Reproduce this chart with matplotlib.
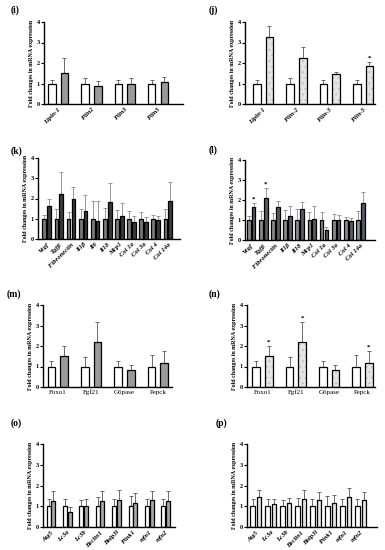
import matplotlib
matplotlib.use("Agg")
import matplotlib.pyplot as plt
import numpy as np

plt.rcParams['font.family'] = ['Liberation Serif', 'DejaVu Serif']
plt.rcParams['hatch.linewidth'] = 0.4

# ---------------- data ----------------
genes_ij = ["Lipin-1", "Plin2", "Plin3", "Plin5"]
genes_j = ["Lipin-1", "Plin-2", "Plin-3", "Plin-5"]
i_ctrl = [1.0, 1.0, 1.0, 1.0]
i_ctrl_err = [0.19, 0.27, 0.19, 0.19]
i_trt = [1.52, 0.87, 1.0, 1.08]
i_trt_err = [0.70, 0.27, 0.27, 0.24]

j_ctrl = [1.0, 1.0, 1.0, 1.0]
j_ctrl_err = [0.19, 0.27, 0.19, 0.19]
j_trt = [3.27, 2.22, 1.44, 1.84]
j_trt_err = [0.55, 0.56, 0.13, 0.22]
j_star = [False, False, False, True]

genes_k = ["Vegf", "Tgfβ", "Fibronectin", "Il1β", "Il6", "Il18", "Mcp1",
           "Col 1a", "Col 3a", "Col 4", "Col 14a"]
k_ctrl = [1.0] * 11
k_ctrl_err = [0.19, 0.46, 0.35, 0.50, 0.90, 0.55, 0.43, 0.38, 0.32, 0.17, 0.47]
k_trt = [1.63, 2.20, 1.97, 1.40, 0.90, 1.81, 1.12, 0.83, 0.86, 0.95, 1.87]
k_trt_err = [0.34, 1.09, 0.61, 0.76, 1.00, 0.94, 0.66, 0.30, 0.23, 0.20, 0.93]

genes_l = ["Vegf", "Tgfβ", "Fibronectin", "Il1β", "Il18", "Mcp1",
           "Col 1a", "Col 3a", "Col 4", "Col 14a"]
l_ctrl = [1.0] * 10
l_ctrl_err = [0.20, 0.45, 0.35, 0.50, 0.55, 0.40, 0.40, 0.30, 0.17, 0.45]
l_trt = [1.64, 2.08, 1.64, 1.20, 1.57, 1.04, 0.52, 1.01, 0.93, 1.85]
l_trt_err = [0.21, 0.52, 0.29, 0.48, 0.33, 0.66, 0.11, 0.25, 0.16, 0.55]
l_star = [True, True] + [False] * 8

genes_mn = ["Foxo1", "Fgf21", "G6pase", "Pepck"]
mn_ctrl = [1.0, 1.0, 1.0, 1.0]
mn_ctrl_err = [0.25, 0.47, 0.25, 0.54]
mn_trt = [1.50, 2.20, 0.84, 1.18]
mn_trt_err = [0.48, 0.97, 0.24, 0.57]
n_star = [True, True, False, True]

genes_op = ["Atg5", "Lc3a", "Lc3b", "Beclin1", "Bnip3l", "Pink1", "mfn1", "mfn2"]
o_ctrl = [1.0] * 8
o_ctrl_err = [0.36, 0.36, 0.31, 0.43, 0.36, 0.49, 0.36, 0.33]
o_trt = [1.26, 0.73, 1.02, 1.25, 1.28, 1.18, 1.28, 1.25]
o_trt_err = [0.46, 0.21, 0.32, 0.47, 0.49, 0.47, 0.44, 0.47]

p_ctrl = [1.0] * 8
p_ctrl_err = [0.34, 0.34, 0.31, 0.42, 0.34, 0.47, 0.34, 0.34]
p_trt = [1.43, 1.11, 1.15, 1.35, 1.32, 1.18, 1.45, 1.29]
p_trt_err = [0.34, 0.26, 0.24, 0.45, 0.36, 0.37, 0.44, 0.39]

yticks = [0, 1, 2, 3, 4]

W, H = 385, 550
fig = plt.figure(figsize=(W / 100, H / 100), dpi=100)


def make_ax(left, right, bottom, top):
    return fig.add_axes([left / W, 1 - bottom / H, (right - left) / W, (bottom - top) / H])


def panel(px, label, labpos, genes, ctrl, cerr, trt, terr, width, off,
          xlim, c_ctrl, c_trt, e_ctrl='#555555', e_trt='#555555', hatch=None,
          stars=None, italic=True, rot=45, edge='black'):
    ax = make_ax(*px)
    x = np.arange(len(genes))
    ax.bar(x - off, ctrl, width, color=c_ctrl, edgecolor=edge, linewidth=0.9, zorder=2)
    ax.errorbar(x - off, ctrl, yerr=[np.zeros(len(ctrl)), cerr], fmt='none',
                ecolor=e_ctrl, elinewidth=0.6, capsize=1.5, capthick=0.6, zorder=1)
    if hatch:
        ax.bar(x + off, trt, width, color=c_trt, edgecolor='#b0b0b0', linewidth=0,
               hatch=hatch, zorder=2)
        ax.bar(x + off, trt, width, facecolor='none', edgecolor=edge, linewidth=0.9,
               zorder=3)
    else:
        ax.bar(x + off, trt, width, color=c_trt, edgecolor=edge, linewidth=0.9, zorder=2)
    ax.errorbar(x + off, trt, yerr=[np.zeros(len(trt)), terr], fmt='none',
                ecolor=e_trt, elinewidth=0.6, capsize=1.5, capthick=0.6, zorder=1)
    if stars is not None:
        for xi, t, e, s in zip(x, trt, terr, stars):
            if s:
                ax.text(xi + off, t + e + 0.2, '*', ha='center', va='center',
                        fontsize=5, fontweight='bold')
    ax.set_ylim(0, 4)
    ax.set_xlim(*xlim)
    ax.set_yticks(yticks)
    ax.set_yticklabels([str(v) for v in yticks], fontsize=4.5, fontweight='bold')
    ax.set_xticks(x)
    if italic:
        ax.set_xticklabels(genes, rotation=rot, ha='right', rotation_mode='anchor',
                           fontsize=4.8, fontstyle='italic', fontweight='bold')
    else:
        ax.set_xticklabels(genes, fontsize=5)
    ax.tick_params(axis='x', length=0, pad=2)
    ax.tick_params(axis='y', length=2, width=0.8, pad=1)
    for s in ['top', 'right']:
        ax.spines[s].set_visible(False)
    ax.spines['left'].set_linewidth(1.0)
    ax.spines['bottom'].set_linewidth(1.0)
    ax.set_ylabel('Fold changes in mRNA expression', fontsize=4.3, fontweight='bold',
                  labelpad=2)
    fig.text(labpos[0] / W, 1 - labpos[1] / H, label, fontsize=7, fontweight='bold',
             ha='left', va='center')
    return ax


# (i)
panel((44, 183, 104, 22), '(i)', (11, 10), genes_ij, i_ctrl, i_ctrl_err, i_trt, i_trt_err,
      0.23, 0.19, (-0.42, 3.75), 'white', '#9a9a9a')
# (j)
panel((245, 375, 104, 22), '(j)', (209, 10), genes_j, j_ctrl, j_ctrl_err, j_trt, j_trt_err,
      0.23, 0.19, (-0.54, 3.36), 'white', '#e4e4e4', hatch='...', stars=j_star)
# (k)
panel((38, 180, 239, 158), '(k)', (11, 151), genes_k, k_ctrl, k_ctrl_err, k_trt, k_trt_err,
      0.31, 0.2, (-0.72, 11.0), '#7a7a7a', '#3a3a3a', e_ctrl='#888888', e_trt='#888888')
# (l)
panel((245, 375, 240, 160), '(l)', (209, 150), genes_l, l_ctrl, l_ctrl_err, l_trt, l_trt_err,
      0.31, 0.2, (-0.5, 10.2), '#8a8a8a', '#5a5a66', e_ctrl='#888888', e_trt='#888888',
      stars=l_star)
# (m)
panel((43, 172, 387, 305), '(m)', (7, 294), genes_mn, mn_ctrl, mn_ctrl_err, mn_trt, mn_trt_err,
      0.23, 0.19, (-0.44, 3.42), 'white', '#9a9a9a', italic=False)
# (n)
panel((247, 375, 387, 305), '(n)', (209, 294), genes_mn, mn_ctrl, mn_ctrl_err, mn_trt, mn_trt_err,
      0.23, 0.19, (-0.47, 3.38), 'white', '#e4e4e4', hatch='...', stars=n_star, italic=False)
# (o)
panel((43, 175, 527, 444), '(o)', (11, 423), genes_op, o_ctrl, o_ctrl_err, o_trt, o_trt_err,
      0.25, 0.14, (-0.48, 7.57), 'white', '#a8a8a8')
# (p)
panel((247, 377, 527, 444), '(p)', (216, 423), genes_op, p_ctrl, p_ctrl_err, p_trt, p_trt_err,
      0.30, 0.22, (-0.6, 8.1), 'white', '#e8e8e8')

fig.savefig('out.png', dpi=100)
